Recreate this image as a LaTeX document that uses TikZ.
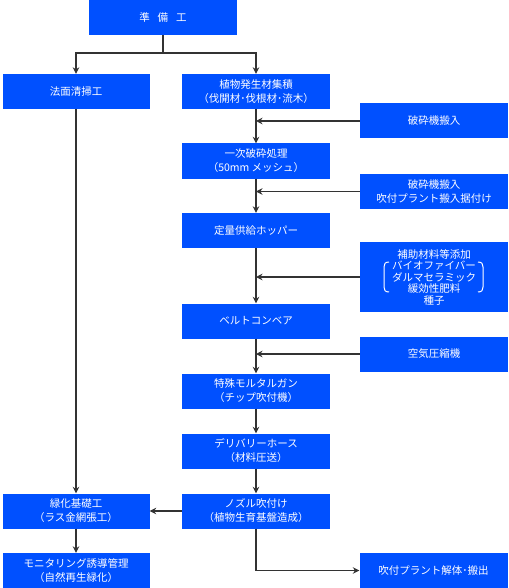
\documentclass[tikz,border=0pt]{standalone}
\usepackage{fontspec}
\newfontfamily\jpfont{Noto Sans CJK JP}
\usetikzlibrary{arrows.meta}
\definecolor{boxblue}{RGB}{0,80,255}
\definecolor{linegray}{RGB}{51,51,51}

\begin{document}
\begin{tikzpicture}[x=1pt,y=-1pt,
    box/.style={fill=boxblue,text=white,minimum width=148pt,minimum height=35pt,
      inner sep=0pt,align=center,font=\jpfont\fontsize{10.5}{14}\selectfont},
    link/.style={draw=linegray,line width=1.6pt},
    arr/.style={link,-{Stealth[length=6.5pt,width=6.5pt]}}]
  \useasboundingbox (0,0) rectangle (508,588);
  %% main line
  \begin{scope}
    \tikzstyle{every node}=[box]
    \node(prep) at (163,17.5) {準\hspace{8pt}備\hspace{8pt}工};
    \node(plant) at (256,91.5) {植物発生材集積\\（伐開材･伐根材･流木）};
    \node(crush) at (256,161) {一次破砕処理\\（50mm メッシュ）};
    \node(hopper) at (256,230.5) {定量供給ホッパー};
    \node(belt) at (256,321) {ベルトコンベア};
    \node(gun) at (256,391) {特殊モルタルガン\\（チップ吹付機）};
    \node(hose) at (256,451) {デリバリーホース\\（材料圧送）};
    \node(nozzle) at (256,511) {ノズル吹付け\\（植物生育基盤造成）};
  \end{scope}
  %% left column
  \begin{scope}
    \tikzstyle{every node}=[box,minimum width=147pt]
    \node(clean) at (76,91.5) {法面清掃工};
    \node(green) at (76,511) {緑化基礎工\\（ラス金網張工）};
    \node(monitor) at (76,570.5) {モニタリング誘導管理\\（自然再生緑化）};
  \end{scope}
  %% side inputs
  \begin{scope}
    \tikzstyle{every node}=[box]
    \node(bring) at (434,121) {破砕機搬入};
    \node(plantin) at (434,191.5) {破砕機搬入\\吹付プラント搬入据付け};
    \node(additive) at (434,277) [minimum height=70pt,
      font=\jpfont\fontsize{10.5}{11.5}\selectfont]
      {補助材料等添加\\バイオファイバー\\ダルマセラミック\\緩効性肥料\\種子};
    \node(air) at (434,354) {空気圧縮機};
    \node(remove) at (433.5,570.5) {吹付プラント解体･搬出};
  \end{scope}
  %% brackets
  \draw[white,line width=1pt] ([shift={(-45,-15)}]additive.center)
    .. controls ([shift={(-49,-15)}]additive.center) and ([shift={(-50,-13)}]additive.center) .. ([shift={(-50,-10)}]additive.center)
    -- ([shift={(-50,10)}]additive.center)
    .. controls ([shift={(-50,13)}]additive.center) and ([shift={(-49,15)}]additive.center) .. ([shift={(-45,15)}]additive.center);
  \draw[white,line width=1pt] ([shift={(44,-15)}]additive.center)
    .. controls ([shift={(48,-15)}]additive.center) and ([shift={(49,-13)}]additive.center) .. ([shift={(49,-10)}]additive.center)
    -- ([shift={(49,10)}]additive.center)
    .. controls ([shift={(49,13)}]additive.center) and ([shift={(48,15)}]additive.center) .. ([shift={(44,15)}]additive.center);
  %% connectors
  \coordinate (split) at (163,53);
  \path[link] (prep) -- (split);
  \path[arr] (split) -| (clean.north);
  \path[arr] (split) -| (plant.north);
  \path[arr] (plant) -- (crush);
  \path[arr] (crush) -- (hopper);
  \path[arr] (hopper) -- (belt);
  \path[arr] (belt) -- (gun);
  \path[arr] (gun) -- (hose);
  \path[arr] (hose) -- (nozzle);
  \path[arr] (bring.west) -- (bring.west -| plant.south);
  \path[arr] (plantin.west) -- (plantin.west -| crush.south);
  \path[arr] (additive.west) -- (additive.west -| hopper.south);
  \path[arr] (air.west) -- (air.west -| belt.south);
  \path[arr] (clean) -- (green);
  \path[arr] (green) -- (monitor);
  \path[arr] (nozzle) -- (green);
  \path[arr] (nozzle.south) |- (remove.west);
\end{tikzpicture}
\end{document}
